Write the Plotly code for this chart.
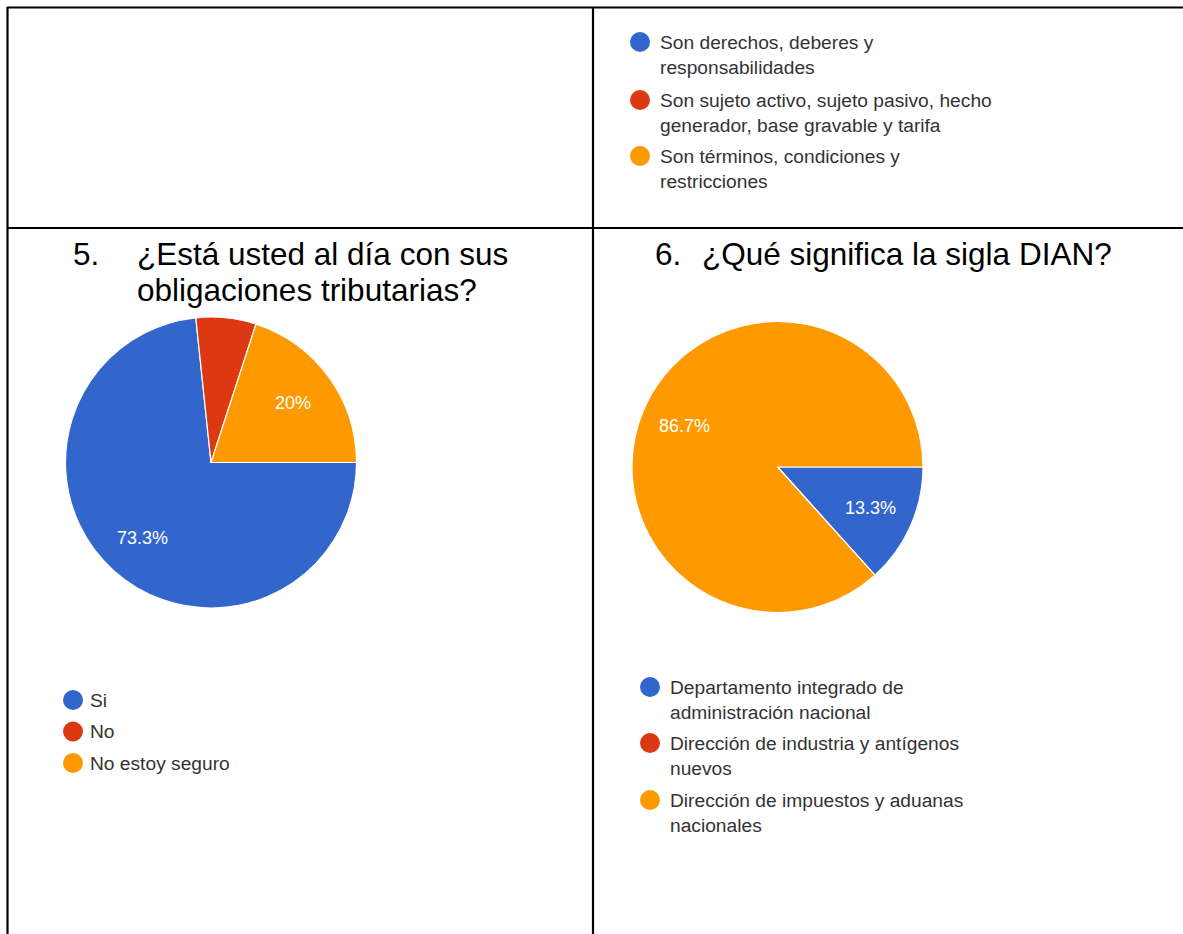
import math
import plotly.graph_objects as go

W, H = 1183, 934

# ---- data ----
q4_labels = [["Son derechos, deberes y", "responsabilidades"],
             ["Son sujeto activo, sujeto pasivo, hecho", "generador, base gravable y tarifa"],
             ["Son términos, condiciones y", "restricciones"]]

q5_title = ["¿Está usted al día con sus", "obligaciones tributarias?"]
q5_labels = ["Si", "No", "No estoy seguro"]
q5_values = [11, 1, 3]

q6_title = ["¿Qué significa la sigla DIAN?"]
q6_labels = [["Departamento integrado de", "administración nacional"],
             ["Dirección de industria y antígenos", "nuevos"],
             ["Dirección de impuestos y aduanas", "nacionales"]]
q6_values = [2, 0, 13]

colors = ["#3366CC", "#DC3912", "#FF9900"]

FONT = "Liberation Sans, Arial, sans-serif"


def px(x):
    return x / W


def py(y):
    return 1 - y / H


fig = go.Figure()

pies = [
    dict(labels=q5_labels, values=q5_values, cx=211, cy=462.5, r=145.5),
    dict(labels=[" ".join(l) for l in q6_labels], values=q6_values, cx=777.5, cy=467, r=145.5),
]

annotations = []
shapes = []

for p in pies:
    cx, cy, r = p["cx"], p["cy"], p["r"]
    fig.add_trace(go.Pie(
        labels=p["labels"], values=p["values"], sort=False,
        direction="clockwise", rotation=90,
        marker=dict(colors=colors, line=dict(color="white", width=1.2)),
        textinfo="none", hoverinfo="label+percent", showlegend=False,
        domain=dict(x=[px(cx - r), px(cx + r)], y=[py(cy + r), py(cy - r)]),
    ))
    total = sum(p["values"])
    start = 0.0  # math angle (deg), 3 o'clock, going clockwise
    for v in p["values"]:
        span = 360.0 * v / total
        pct = 100.0 * v / total
        if pct >= 10:
            mid = math.radians(start - span / 2)
            lx = cx + 0.70 * r * math.cos(mid)
            ly = cy - 0.70 * r * math.sin(mid)
            txt = f"{pct:.1f}%".replace(".0%", "%")
            annotations.append(dict(
                x=px(lx), y=py(ly), xref="paper", yref="paper", text=txt,
                showarrow=False, font=dict(family=FONT, size=18, color="white"),
                xanchor="center", yanchor="middle"))
        start -= span


def text(x, y, s, size, color, anchor="left"):
    annotations.append(dict(
        x=px(x), y=py(y), xref="paper", yref="paper", text=s,
        showarrow=False, xanchor=anchor, yanchor="middle",
        font=dict(family=FONT, size=size, color=color)))


# ---- legends ----
def legend(items, cx, tx, ys, lh=25.5, size=19.2, rr=10):
    for lines, c, y in zip(items, colors, ys):
        if isinstance(lines, str):
            lines = [lines]
        shapes.append(dict(type="circle", xref="paper", yref="paper",
                           x0=px(cx - rr), x1=px(cx + rr),
                           y0=py(y + rr), y1=py(y - rr),
                           fillcolor=c, line=dict(width=0)))
        for i, ln in enumerate(lines):
            text(tx, y + i * lh, ln, size, "#333333")


legend(q4_labels, 640, 658, [42, 100, 156])
legend(q5_labels, 73, 88, [700, 731.5, 763])
legend(q6_labels, 650, 668, [687, 743, 800])

# ---- titles ----
TS = 31.5
text(71, 254, "5.", TS, "black")
for i, ln in enumerate(q5_title):
    text(135, 254 + i * 36, ln, TS, "black")
text(653, 254, "6.", TS, "black")
for i, ln in enumerate(q6_title):
    text(700, 254 + i * 36, ln, TS, "black")

# ---- table borders ----
bw = 2.2
for x0, y0, x1, y1 in [(7, 7.5, W + 5, 7.5), (7, 228, W + 5, 228),
                       (7.5, 7, 7.5, H + 5), (593, 7, 593, H + 5)]:
    shapes.append(dict(type="line", xref="paper", yref="paper",
                       x0=px(x0), y0=py(y0), x1=px(x1), y1=py(y1),
                       line=dict(color="black", width=bw)))

fig.update_layout(
    width=W, height=H, margin=dict(l=0, r=0, t=0, b=0),
    paper_bgcolor="white", plot_bgcolor="white",
    annotations=annotations, shapes=shapes,
)

fig.write_html("out.html", config={"displayModeBar": False},
               post_script="document.body.style.margin='0';")
